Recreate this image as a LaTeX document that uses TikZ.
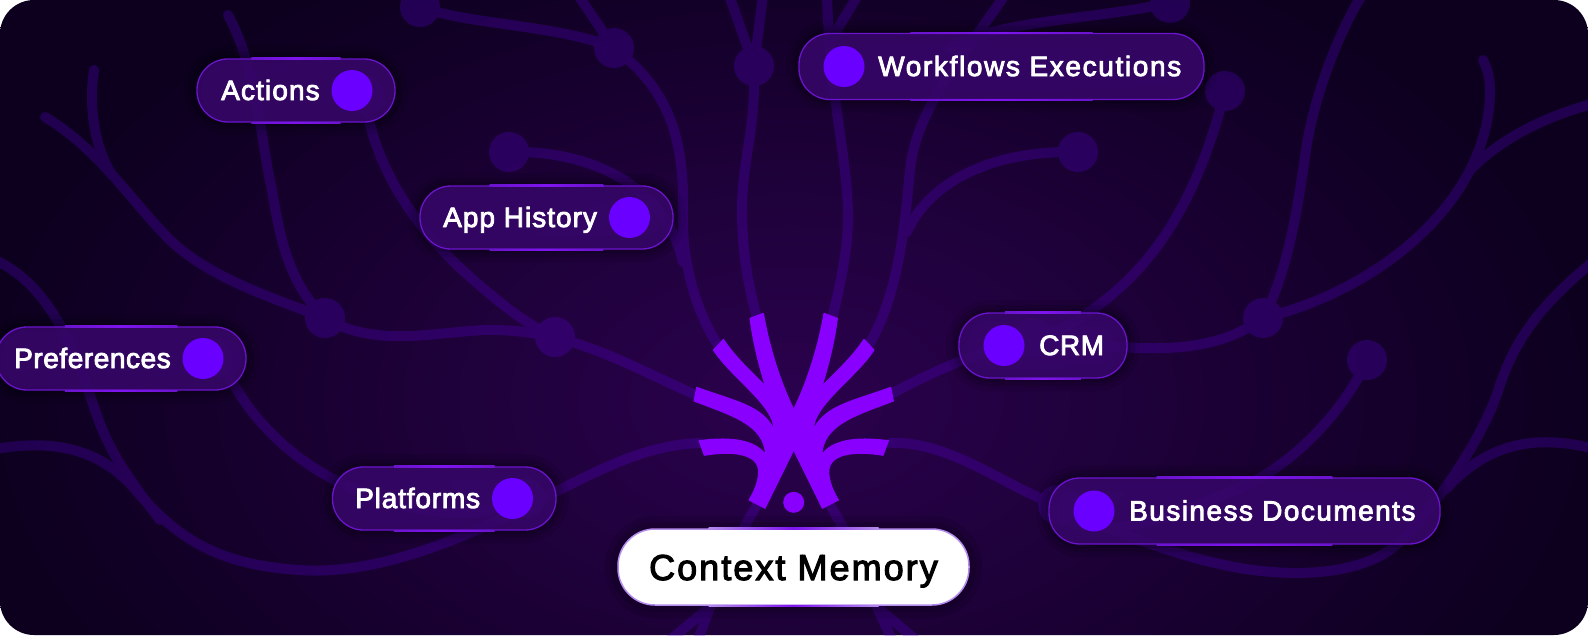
\documentclass[tikz,border=0pt]{standalone}
\usepackage{fontspec}
\usetikzlibrary{fadings}
\setmainfont{Liberation Sans}[FakeBold=3]
\definecolor{bgmid}{HTML}{2B014E}
\definecolor{bgedge}{HTML}{0D001F}
\definecolor{strandcol}{HTML}{6A00FF}
\definecolor{pillfill}{HTML}{37066A}
\definecolor{pillline}{HTML}{6A14CC}
\definecolor{pillglowcol}{HTML}{7F14F0}
\definecolor{pilldotcol}{HTML}{6A00FF}
\definecolor{logocol}{HTML}{8A00FF}
\definecolor{memoryline}{HTML}{B48CEC}
\tikzfading[name=strandfade,inner color=transparent!0,outer color=transparent!60]
\tikzset{
  strand/.style={draw=strandcol,line width=10,line cap=round,line join=round},
  stranddot/.style={circle,fill=strandcol,minimum size=40,inner sep=0},
  pillbox/.style={rectangle,draw=pillline,line width=1.3,fill=pillfill,fill opacity=.88,
    rounded corners=31,inner sep=0,
    preaction={draw=black,line width=26,opacity=.08},
    preaction={draw=black,line width=16,opacity=.12},
    preaction={draw=black,line width=8,opacity=.14}},
  pillglow/.style={rectangle,inner sep=0,minimum height=1.3,left color=pillline,right color=pillline,middle color=pillglowcol},
  memoryglow/.style={rectangle,inner sep=0,minimum height=1.5,minimum width=170,left color=memoryline,right color=memoryline,middle color=pillglowcol},
  pilldot/.style={circle,fill=pilldotcol,minimum size=41,inner sep=0},
  pilltext/.style={anchor=base west,inner sep=0,text=white,font=\fontsize{28}{30}\selectfont},
  logoshape/.style={fill=logocol,draw=logocol,line width=1,line join=round}
}
\begin{document}
\begin{tikzpicture}[x=1pt,y=-1pt]
  \useasboundingbox (0,0) rectangle (1588,635);
  \begin{scope}
    \clip[rounded corners=34] (0,0) rectangle (1588,635);
    \shade[inner color=bgmid,outer color=bgedge] (-10,-100) rectangle (1590,900);

    \begin{scope}[transparency group,opacity=.22,scope fading=strandfade,fit fading=false,
        fading transform={shift={(794,330)},xscale=32,yscale=20}]
      \foreach \nm/\px/\py in {a/325/318,b/555/337,c/614/48,d/754/66,e/509/152,f/1078/152,
          g/1225/91,h/1263/318,j/1367/360,k/420/7,l/222/358,m/525/498,n/365/95,o/1058/505,
          p/1170/3,q/1032/338} {
        \node[stranddot] (dot\nm) at (\px,\py) {};
      }
      \draw[strand] (dota.center) .. controls (370,345) and (420,335) .. (470,331) .. controls (500,328) and (530,332) .. (dotb.center) .. controls (610,352) and (650,375) .. (696,395);
      \draw[strand] (45,117) .. controls (100,150) and (130,200) .. (170,240) .. controls (210,278) and (270,297) .. (dota.center);
      \draw[strand] (94,70) .. controls (88,110) and (96,150) .. (112,175);
      \draw[strand] (228,15) .. controls (258,70) and (262,150) .. (272,190) .. controls (280,240) and (290,285) .. (dota.center);
      \draw[strand] (dotn.center) .. controls (372,165) and (415,225) .. (460,268) .. controls (490,295) and (525,325) .. (dotb.center);
      \draw[strand] (dote.center) .. controls (590,150) and (665,185) .. (683,262);
      \draw[strand] (dotk.center) .. controls (470,25) and (560,25) .. (dotc.center);
      \draw[strand] (578,-5) -- (dotc.center);
      \draw[strand] (dotc.center) .. controls (670,90) and (685,140) .. (683,217) .. controls (682,260) and (695,310) .. (718,345);
      \draw[strand] (729,-5) -- (dotd.center) (763,-5) -- (dotd.center);
      \draw[strand] (dotd.center) .. controls (756,130) and (742,160) .. (742,210) .. controls (742,250) and (748,285) .. (757,318);
      \draw[strand] (827,-5) .. controls (830,100) and (848,160) .. (848,217) .. controls (848,250) and (840,285) .. (833,315);
      \draw[strand] (858,-5) -- (831,40);
      \draw[strand] (870,343) .. controls (900,290) and (905,220) .. (910,170) .. controls (916,110) and (960,60) .. (1005,-5);
      \draw[strand] (950,48) .. controls (1000,20) and (1090,20) .. (dotp.center);
      \draw[strand] (907,232) .. controls (925,190) and (980,150) .. (dotf.center);
      \draw[strand] (893,393) .. controls (920,378) and (990,345) .. (dotq.center) .. controls (1110,345) and (1200,365) .. (doth.center);
      \draw[strand] (1030,345) .. controls (1130,300) and (1190,230) .. (dotg.center);
      \draw[strand] (doth.center) .. controls (1290,270) and (1300,190) .. (1306,150) .. controls (1314,95) and (1340,30) .. (1362,-5);
      \draw[strand] (doth.center) .. controls (1380,290) and (1490,200) .. (1490,90) .. controls (1490,80) and (1488,70) .. (1483,60);
      \draw[strand] (1470,170) .. controls (1500,140) and (1540,118) .. (1595,103);
      \draw[strand] (1595,260) .. controls (1540,305) and (1515,340) .. (1500,385) .. controls (1485,435) and (1435,510) .. (1396,545) .. controls (1365,572) and (1310,575) .. (1273,572) .. controls (1210,568) and (1130,540) .. (doto.center);
      \draw[strand] (1595,449) .. controls (1540,435) and (1490,440) .. (1445,490);
      \draw[strand] (890,443) .. controls (950,440) and (1010,490) .. (doto.center);
      \draw[strand] (dotj.center) .. controls (1340,420) and (1280,475) .. (1230,492) .. controls (1190,508) and (1150,525) .. (1110,528);
      \draw[strand] (700,443) .. controls (640,445) and (590,475) .. (530,505) .. controls (450,545) and (370,575) .. (300,570) .. controls (220,565) and (180,540) .. (140,495) .. controls (100,445) and (50,440) .. (-5,449);
      \draw[strand] (-5,260) .. controls (50,285) and (75,350) .. (95,410) .. controls (110,455) and (130,480) .. (160,520);
      \draw[strand] (dotl.center) .. controls (240,410) and (290,460) .. (345,485) .. controls (400,510) and (470,525) .. (dotm.center);
      \draw[strand] (757,505) .. controls (735,540) and (725,575) .. (710,607) (670,640) -- (710,607) -- (698,640);
      \draw[strand] (830,505) .. controls (852,540) and (862,575) .. (877,607) (916,640) -- (877,607) -- (892,640);
    \end{scope}

    \foreach \nm/\cx/\cy/\pw/\ph/\dx/\tx/\ls/\lbl in {
        actions/296/90.5/198/63/352/221/4/Actions,
        history/546.5/217.5/253/63/629.5/443/3.6/App History,
        workflows/1001.5/66.5/405/66/844/878/5.9/Workflows Executions,
        preferences/121/358.5/250/63/203/14/2/Preferences,
        platforms/444.25/498.5/223.5/63/512.5/355/3/Platforms,
        crm/1043/345.5/168/65/1004/1039/2/CRM,
        documents/1244.5/511/391/66/1094/1129/5.2/Business Documents} {
      \node[pillbox,minimum width=\pw,minimum height=\ph] (\nm box) at (\cx,\cy) {};
      \node[pillglow,minimum width=\pw*.45] (\nm top) at (\nm box.north) {};
      \node[pillglow,minimum width=\pw*.45] (\nm bottom) at (\nm box.south) {};
      \node[pilldot] (\nm dot) at (\dx,\cy) {};
      \node[pilltext] (\nm text) at (\tx,\cy+9.5) {\addfontfeatures{LetterSpace=\ls}\lbl};
    }

    \foreach \s in {1,-1} {
      \begin{scope}[shift={(793.7,0)},xscale=\s]
        \path[logoshape] (0,409.3) .. controls (-12,385) and (-24,350) .. (-30.3,313.3) -- (-43.7,318.3)
          .. controls (-41,340) and (-35,365) .. (-28.3,386)
          .. controls (-40,374) and (-58,358) .. (-70.3,339.3) -- (-80.3,350)
          .. controls (-62,378) and (-20,405) .. (-19.7,429.3)
          .. controls (-32,405) and (-60,401) .. (-97,387.3) -- (-99.7,401)
          .. controls (-60,416) and (-30,425) .. (-28,454.7)
          .. controls (-38,441) and (-60,436) .. (-94.7,440.7) -- (-89.3,455.3)
          .. controls (-70,452) and (-34,450) .. (-35,473)
          .. controls (-36,484) and (-40,492) .. (-44.7,500) -- (-28.7,508.3) -- (0,450) -- cycle;
      \end{scope}
    }
    \node[circle,fill=logocol,minimum size=21,inner sep=0] (logodot) at (793.7,502.3) {};

    \node[rectangle,draw=memoryline,line width=1.5,fill=white,rounded corners=37,inner sep=0,
      minimum width=351,minimum height=76,
      preaction={draw=black,line width=26,opacity=.10},
      preaction={draw=black,line width=14,opacity=.14}] (memorybox) at (793.5,567) {};
    \node[memoryglow] (memorytop) at (memorybox.north) {};
    \node[memoryglow] (memorybottom) at (memorybox.south) {};
    \node[anchor=base,inner sep=0,text=black,font=\fontsize{36}{40}\selectfont] (memorytext) at (793.5,580) {\addfontfeatures{LetterSpace=5.7}Context Memory};
  \end{scope}
\end{tikzpicture}
\end{document}
